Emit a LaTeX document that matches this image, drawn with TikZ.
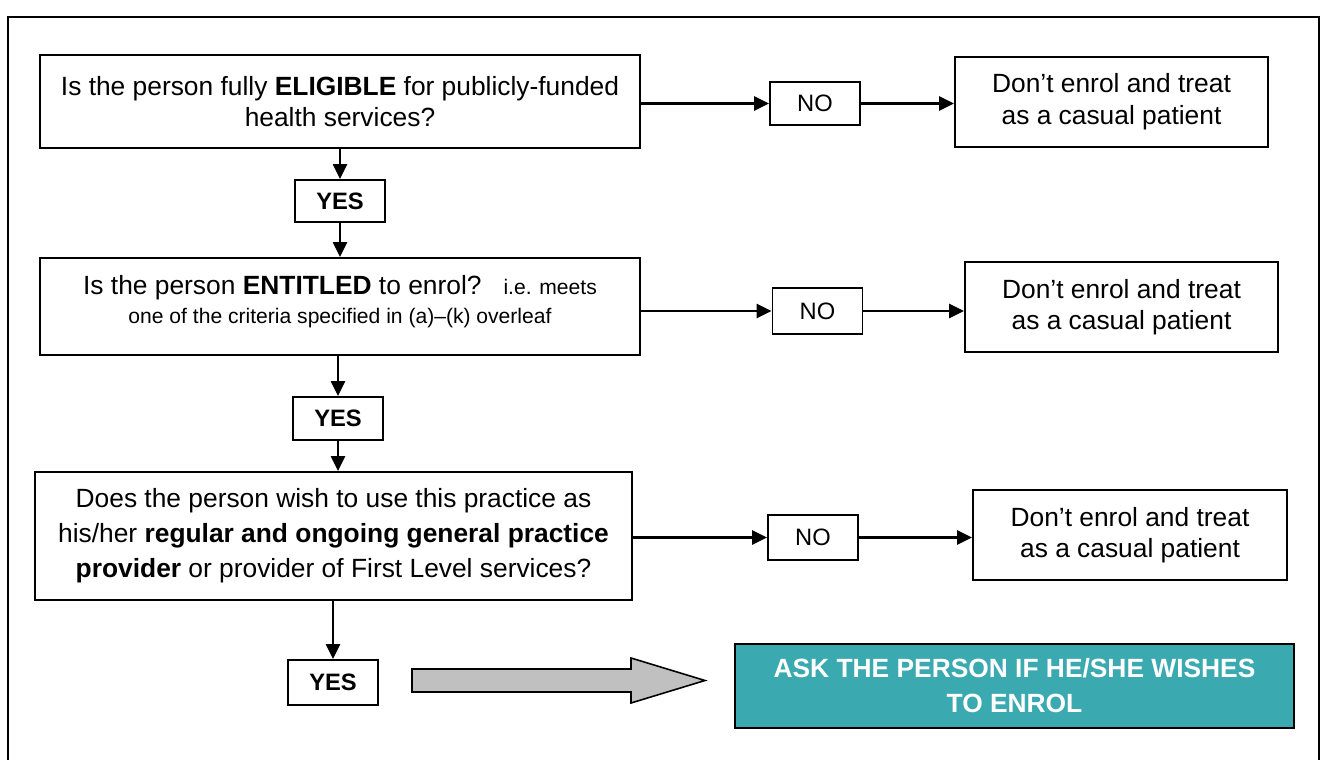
\documentclass[tikz,border=0pt]{standalone}
\usepackage{fontspec}
\setmainfont{Liberation Sans}
\usetikzlibrary{arrows.meta}
\definecolor{askteal}{RGB}{58,169,176}
\definecolor{blockgray}{RGB}{192,192,192}

\begin{document}
\begin{tikzpicture}[x=0.02cm,y=-0.02cm,
    box/.style={draw,line width=1.1pt,align=center,inner sep=0pt,font=\fontsize{15}{18}\selectfont},
    tag/.style={draw,line width=1.1pt,inner sep=0pt,minimum width=1.8cm,font=\fontsize{13.5}{16}\selectfont},
    flow/.style={-{Triangle[length=8.5pt,width=8pt]},line width=1.2pt}]
      \useasboundingbox (0,0) rectangle (1325,760);
      \draw[line width=1.1pt] (8,760) -- (8,17) -- (1319,17) -- (1319,760);
      % questions
      \node[box,minimum width=12cm,minimum height=1.86cm] (q1) at (340,101.5)
        {Is the person fully \textbf{ELIGIBLE} for publicly-funded\\health services?};
      \node[box,font=\fontsize{15}{16}\selectfont,text depth=8pt,minimum width=12cm,minimum height=1.94cm] (q2) at (340,306.5)
        {Is the person \textbf{ENTITLED} to enrol?\hspace{12.5pt}{\fontsize{12}{14}\selectfont i.e. meets}\\
         {\fontsize{12}{14}\selectfont one of the criteria specified in (a)--(k) overleaf}};
      \node[box,font=\fontsize{15}{20}\selectfont,minimum width=11.94cm,minimum height=2.56cm] (q3) at (333.5,536)
        {Does the person wish to use this practice as\\
         his/her \textbf{regular and ongoing general practice}\\
         \textbf{provider} or provider of First Level services?};
      % answers
      \node[tag,minimum height=0.86cm] (no1) at (815,103.5) {NO};
      \node[tag,minimum height=0.92cm] (no2) at (817.5,311) {NO};
      \node[tag,minimum height=0.9cm] (no3) at (813,537.5) {NO};
      \node[tag,minimum height=0.84cm,font=\fontsize{13.5}{16}\selectfont\bfseries] (y1) at (340,201) {YES};
      \node[tag,minimum height=0.86cm,font=\fontsize{13.5}{16}\selectfont\bfseries] (y2) at (338,418.5) {YES};
      \node[tag,minimum height=0.9cm,font=\fontsize{13.5}{16}\selectfont\bfseries] (y3) at (333,682.5) {YES};
      % outcomes
      \node[box,minimum width=6.26cm,minimum height=1.8cm] (d1) at (1111.5,102) {Don’t enrol and treat\\as a casual patient};
      \node[box,minimum width=6.26cm,minimum height=1.8cm] (d2) at (1121.5,307) {Don’t enrol and treat\\as a casual patient};
      \node[box,minimum width=6.28cm,minimum height=1.8cm] (d3) at (1130,535) {Don’t enrol and treat\\as a casual patient};
      \node[box,fill=askteal,text=white,font=\fontsize{15}{20}\selectfont\bfseries,
        minimum width=11.18cm,minimum height=1.68cm] (ask) at (1014.5,686)
        {ASK THE PERSON IF HE/SHE WISHES\\TO ENROL};
      % arrows
      \draw[flow] (q1.east |- no1) -- (no1.west);
      \draw[flow] (no1.east) -- (no1.east -| d1.west);
      \draw[flow] (q2.east |- no2) -- (no2.west);
      \draw[flow] (no2.east) -- (no2.east -| d2.west);
      \draw[flow] (q3.east |- no3) -- (no3.west);
      \draw[flow] (no3.east) -- (no3.east -| d3.west);
      \draw[flow] (q1.south -| y1) -- (y1.north);
      \draw[flow] (y1.south) -- (y1.south |- q2.north);
      \draw[flow] (q2.south -| y2) -- (y2.north);
      \draw[flow] (y2.south) -- (y2.south |- q3.north);
      \draw[flow] (q3.south -| y3) -- (y3.north);
      \draw[line width=0.9pt,fill=blockgray] (412,669) -- (631,669) -- (631,658) -- (705,680.5)
        -- (631,703) -- (631,692) -- (412,692) -- cycle;
    \end{tikzpicture}
\end{document}
